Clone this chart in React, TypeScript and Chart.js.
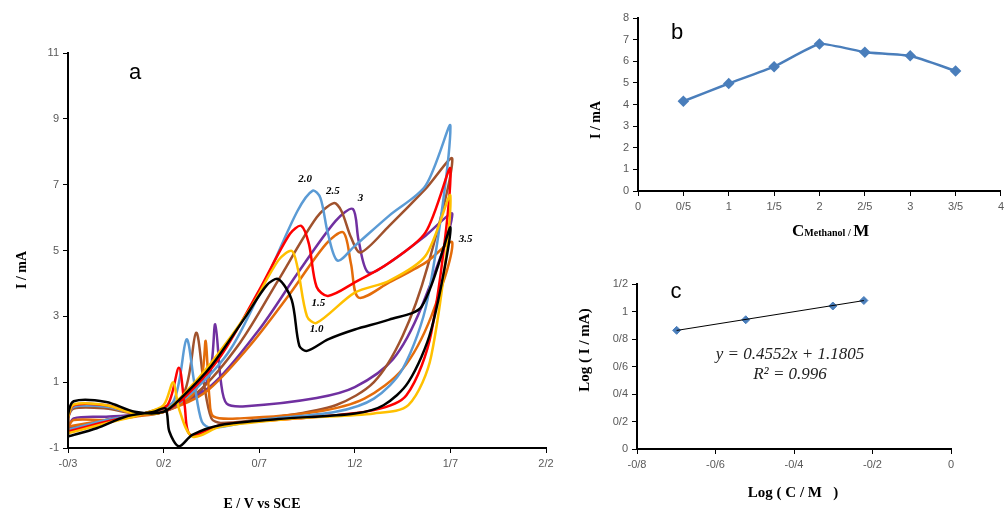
import React, { useEffect, useRef } from 'react';
import { Chart, registerables } from 'chart.js';

Chart.register(...registerables);

// ---- panel a: cyclic voltammograms, [E (V), I (mA)] loops ----
const blackCV = [[-0.3, -0.65], [-0.15, -0.4], [0.0, -0.05], [0.15, 0.1], [0.21, 0.2], [0.23, -0.5], [0.28, -0.95], [0.35, -0.6], [0.5, -0.3], [0.8, -0.12], [1.2, 0.05], [1.35, 0.3], [1.48, 1.0], [1.6, 2.6], [1.7, 5.7], [1.55, 3.3], [1.38, 2.9], [1.2, 2.6], [1.06, 2.3], [0.95, 1.95], [0.91, 2.1], [0.87, 3.5], [0.8, 4.13], [0.74, 3.95], [0.63, 3.0], [0.45, 1.5], [0.3, 0.57], [0.2, 0.1], [0.05, 0.1], [-0.1, 0.4], [-0.27, 0.42], [-0.3, 0.0], [-0.3, -0.65]];
const yellowCV = [[-0.3, -0.55], [-0.1, -0.25], [0.1, 0.05], [0.2, 0.3], [0.25, 1.0], [0.28, 0.2], [0.35, -0.65], [0.5, -0.35], [0.9, -0.1], [1.3, 0.05], [1.48, 0.3], [1.6, 1.8], [1.7, 6.66], [1.57, 4.84], [1.38, 4.08], [1.2, 3.72], [1.0, 2.8], [0.95, 3.0], [0.9, 4.5], [0.87, 4.99], [0.8, 4.7], [0.65, 3.2], [0.45, 1.6], [0.3, 0.6], [0.2, 0.1], [0.05, 0.05], [-0.1, 0.3], [-0.27, 0.32], [-0.3, -0.1], [-0.3, -0.55]];
const redCV = [[-0.3, -0.5], [-0.1, -0.2], [0.1, 0.05], [0.22, 0.3], [0.28, 1.44], [0.31, 0.3], [0.34, -0.6], [0.5, -0.3], [0.9, -0.1], [1.3, 0.15], [1.47, 0.6], [1.6, 2.5], [1.7, 7.48], [1.57, 5.55], [1.38, 4.63], [1.2, 4.03], [1.06, 3.62], [1.0, 3.9], [0.96, 5.2], [0.92, 5.75], [0.86, 5.5], [0.7, 3.8], [0.5, 1.8], [0.32, 0.6], [0.2, 0.1], [0.05, 0.05], [-0.1, 0.3], [-0.27, 0.3], [-0.3, -0.1], [-0.3, -0.5]];
const blueCV = [[-0.3, -0.45], [-0.1, -0.15], [0.1, 0.05], [0.25, 0.4], [0.32, 2.3], [0.36, 1.0], [0.4, -0.2], [0.45, -0.39], [0.7, -0.15], [1.1, 0.1], [1.3, 0.5], [1.45, 1.4], [1.58, 3.5], [1.7, 8.78], [1.57, 6.97], [1.38, 6.06], [1.2, 5.14], [1.11, 4.69], [1.06, 5.5], [1.02, 6.6], [0.98, 6.82], [0.9, 6.2], [0.75, 4.3], [0.55, 2.0], [0.35, 0.7], [0.2, 0.1], [0.05, 0.05], [-0.1, 0.25], [-0.27, 0.25], [-0.3, -0.1], [-0.3, -0.45]];
const brownCV = [[-0.3, -0.45], [-0.1, -0.15], [0.1, 0.05], [0.3, 0.6], [0.37, 2.5], [0.41, 1.0], [0.45, -0.1], [0.5, -0.24], [0.8, -0.05], [1.1, 0.3], [1.3, 1.0], [1.45, 2.4], [1.58, 4.5], [1.71, 7.78], [1.57, 6.87], [1.38, 5.75], [1.23, 4.94], [1.18, 5.4], [1.13, 6.2], [1.09, 6.44], [1.0, 6.0], [0.8, 4.1], [0.6, 2.2], [0.38, 0.7], [0.2, 0.1], [0.05, 0.05], [-0.1, 0.2], [-0.27, 0.2], [-0.3, -0.1], [-0.3, -0.45]];
const purpleCV = [[-0.3, -0.4], [-0.1, -0.15], [0.1, 0.05], [0.35, 0.5], [0.44, 1.2], [0.47, 2.76], [0.5, 1.0], [0.53, 0.35], [0.63, 0.27], [1.0, 0.52], [1.2, 0.85], [1.4, 1.7], [1.55, 3.3], [1.71, 6.1], [1.57, 5.45], [1.38, 4.63], [1.27, 4.33], [1.22, 5.3], [1.19, 6.26], [1.1, 5.9], [0.9, 4.3], [0.7, 2.6], [0.45, 0.9], [0.2, 0.1], [0.05, 0.0], [-0.1, -0.05], [-0.27, -0.1], [-0.3, -0.4]];
const orangeCV = [[-0.3, -0.35], [-0.1, -0.15], [0.1, 0.05], [0.33, 0.5], [0.4, 1.2], [0.42, 2.25], [0.44, 0.5], [0.46, -0.04], [0.6, -0.1], [1.0, 0.1], [1.25, 0.5], [1.45, 1.4], [1.6, 3.0], [1.71, 5.24], [1.57, 4.63], [1.38, 4.03], [1.22, 3.57], [1.18, 4.6], [1.14, 5.55], [1.05, 5.2], [0.85, 3.6], [0.65, 2.1], [0.42, 0.7], [0.2, 0.1], [0.05, -0.05], [-0.1, -0.15], [-0.27, -0.15], [-0.3, -0.35]];

const cvCurves = [
  { data: blackCV, color: '#000000' },
  { data: yellowCV, color: '#ffc000' },
  { data: redCV, color: '#ff0000' },
  { data: blueCV, color: '#5b9bd5' },
  { data: orangeCV, color: '#e46c0a' },
  { data: brownCV, color: '#a0522d' },
  { data: purpleCV, color: '#7030a0' },
];
const xTicksA = [-0.3, 0.2, 0.7, 1.2, 1.7, 2.2];
const cvLabels = [
  { text: '2.0', x: 0.94, y: 7.17 },
  { text: '2.5', x: 1.085, y: 6.8 },
  { text: '3', x: 1.23, y: 6.6 },
  { text: '1.5', x: 1.01, y: 3.4 },
  { text: '1.0', x: 1.0, y: 2.6 },
  { text: '3.5', x: 1.78, y: 5.35 },
];

// ---- panel b ----
const concM = [0.5, 1, 1.5, 2, 2.5, 3, 3.5];
const peakI = [4.15, 4.97, 5.75, 6.8, 6.42, 6.25, 5.55];

// ---- panel c ----
const logC = [-0.699, -0.523, -0.301, -0.222];
const logI = [0.863, 0.94, 1.04, 1.08];
const fitSlope = 0.4552;
const fitIntercept = 1.1805;

const fa = (v: number) => {
  const s = String(Math.round(v * 100) / 100);
  return s.replace('.', '/');
};

const tickFont = { family: 'Liberation Sans', size: 11 };
const tickColor = '#595959';

function axis(min: number, max: number, step: number | null, size: number, isY: boolean, bw: number, extra: any = {}) {
  return {
    type: 'linear',
    min,
    max,
    grid: { drawOnChartArea: false, drawTicks: true, tickLength: 5, color: '#000' },
    border: { display: true, color: '#000', width: bw },
    ticks: { stepSize: step ?? undefined, font: tickFont, color: tickColor, callback: (v: number) => fa(v), padding: 4, maxRotation: 0, autoSkip: false },
    afterFit: (s: any) => { if (isY) s.width = size; else s.height = size; },
    ...extra,
  };
}

function textPlugin(draw: (ch: any) => void) {
  return { id: 'txt', afterDraw: (ch: any) => { const c = ch.ctx; c.save(); draw(ch); c.restore(); } };
}

function PanelA() {
  const ref = useRef<HTMLCanvasElement | null>(null);
  useEffect(() => {
    const ctx = ref.current?.getContext('2d');
    if (!ctx) return;
    const ch = new Chart(ctx, {
      type: 'scatter',
      data: {
        datasets: cvCurves.map((c) => ({
          data: c.data.map(([x, y]) => ({ x, y })),
          borderColor: c.color,
          borderWidth: 2.5,
          showLine: true,
          pointRadius: 0,
          tension: 0.3,
          fill: false,
        })),
      },
      options: {
        animation: false,
        responsive: false,
        plugins: { legend: { display: false }, tooltip: { enabled: false } },
        layout: { padding: { top: 53, right: 14, left: 0, bottom: 0 } },
        scales: {
          x: axis(-0.3, 2.2, 0.5, 65, false, 2, { afterBuildTicks: (s: any) => { s.ticks = xTicksA.map((v) => ({ value: v })); } }),
          y: axis(-1, 11, 2, 68, true, 2),
        },
      } as any,
      plugins: [textPlugin((chart) => {
        const c = chart.ctx;
        const xs = chart.scales.x, ys = chart.scales.y;
        c.fillStyle = '#000';
        c.textAlign = 'center';
        c.textBaseline = 'middle';
        c.font = 'italic bold 11px "Liberation Serif"';
        cvLabels.forEach((l) => c.fillText(l.text, xs.getPixelForValue(l.x), ys.getPixelForValue(l.y)));
        c.font = '22px "Liberation Sans"';
        c.fillText('a', 135, 73);
        c.font = 'bold 14px "Liberation Serif"';
        c.fillText('E / V vs SCE', 262, 504);
        c.translate(22, 270);
        c.rotate(-Math.PI / 2);
        c.fillText('I / mA', 0, 0);
      })],
    });
    return () => ch.destroy();
  }, []);
  return <canvas ref={ref} width={560} height={513} style={{ position: 'absolute', left: 0, top: 0, width: 560, height: 513 }} />;
}

function PanelB() {
  const ref = useRef<HTMLCanvasElement | null>(null);
  useEffect(() => {
    const ctx = ref.current?.getContext('2d');
    if (!ctx) return;
    const ch = new Chart(ctx, {
      type: 'scatter',
      data: {
        datasets: [{
          data: concM.map((x, i) => ({ x, y: peakI[i] })),
          borderColor: '#4a7ebb',
          backgroundColor: '#4a7ebb',
          borderWidth: 2.5,
          showLine: true,
          pointStyle: 'rectRot',
          pointRadius: 4,
          tension: 0.15,
        }],
      },
      options: {
        animation: false,
        responsive: false,
        plugins: { legend: { display: false }, tooltip: { enabled: false } },
        layout: { padding: { top: 18, right: 0, left: 0, bottom: 0 } },
        scales: {
          x: axis(0, 4, 0.5, 59, false, 2),
          y: axis(0, 8, 1, 78, true, 2),
        },
      } as any,
      plugins: [textPlugin((chart) => {
        const c = chart.ctx;
        c.fillStyle = '#000';
        c.textBaseline = 'middle';
        c.textAlign = 'center';
        c.font = '22px "Liberation Sans"';
        c.fillText('b', 117, 33);
        c.textAlign = 'left';
        c.textBaseline = 'alphabetic';
        let x = 232;
        const y = 236;
        c.font = 'bold 17px "Liberation Serif"';
        c.fillText('C', x, y); x += c.measureText('C').width;
        c.font = 'bold 10px "Liberation Serif"';
        c.fillText('Methanol / ', x, y); x += c.measureText('Methanol / ').width;
        c.font = 'bold 17px "Liberation Serif"';
        c.fillText('M', x, y);
        c.textAlign = 'center';
        c.textBaseline = 'middle';
        c.font = 'bold 14px "Liberation Serif"';
        c.translate(36, 120);
        c.rotate(-Math.PI / 2);
        c.fillText('I / mA', 0, 0);
      })],
    });
    return () => ch.destroy();
  }, []);
  return <canvas ref={ref} width={448} height={250} style={{ position: 'absolute', left: 560, top: 0, width: 448, height: 250 }} />;
}

function PanelC() {
  const ref = useRef<HTMLCanvasElement | null>(null);
  useEffect(() => {
    const ctx = ref.current?.getContext('2d');
    if (!ctx) return;
    const x0 = logC[0], x1 = logC[logC.length - 1];
    const ch = new Chart(ctx, {
      type: 'scatter',
      data: {
        datasets: [
          {
            data: [{ x: x0, y: fitSlope * x0 + fitIntercept }, { x: x1, y: fitSlope * x1 + fitIntercept }],
            borderColor: '#000',
            borderWidth: 1,
            showLine: true,
            pointRadius: 0,
          },
          {
            data: logC.map((x, i) => ({ x, y: logI[i] })),
            borderColor: '#4a7ebb',
            backgroundColor: '#4a7ebb',
            pointStyle: 'rectRot',
            pointRadius: 4,
            showLine: false,
          },
        ],
      },
      options: {
        animation: false,
        responsive: false,
        plugins: { legend: { display: false }, tooltip: { enabled: false } },
        layout: { padding: { top: 34, right: 57, left: 0, bottom: 0 } },
        scales: {
          x: axis(-0.8, 0, 0.2, 64, false, 2),
          y: axis(0, 1.2, 0.2, 77, true, 2),
        },
      } as any,
      plugins: [textPlugin((chart) => {
        const c = chart.ctx;
        c.fillStyle = '#000';
        c.textAlign = 'center';
        c.textBaseline = 'middle';
        c.font = '22px "Liberation Sans"';
        c.fillText('c', 116, 42);
        c.fillStyle = '#222';
        c.font = 'italic 17px "Liberation Serif"';
        c.fillText('y = 0.4552x + 1.1805', 230, 105);
        c.fillText('R² = 0.996', 230, 125);
        c.fillStyle = '#000';
        c.font = 'bold 15px "Liberation Serif"';
        c.fillText('Log ( C / M   )', 233, 243);
        c.translate(25, 100);
        c.rotate(-Math.PI / 2);
        c.fillText('Log ( I / mA)', 0, 0);
      })],
    });
    return () => ch.destroy();
  }, []);
  return <canvas ref={ref} width={448} height={263} style={{ position: 'absolute', left: 560, top: 250, width: 448, height: 263 }} />;
}

export default function App() {
  return (
    <div style={{ position: 'fixed', left: 0, top: 0, width: 1008, height: 513, background: '#fff' }}>
      <PanelA />
      <PanelB />
      <PanelC />
    </div>
  );
}
